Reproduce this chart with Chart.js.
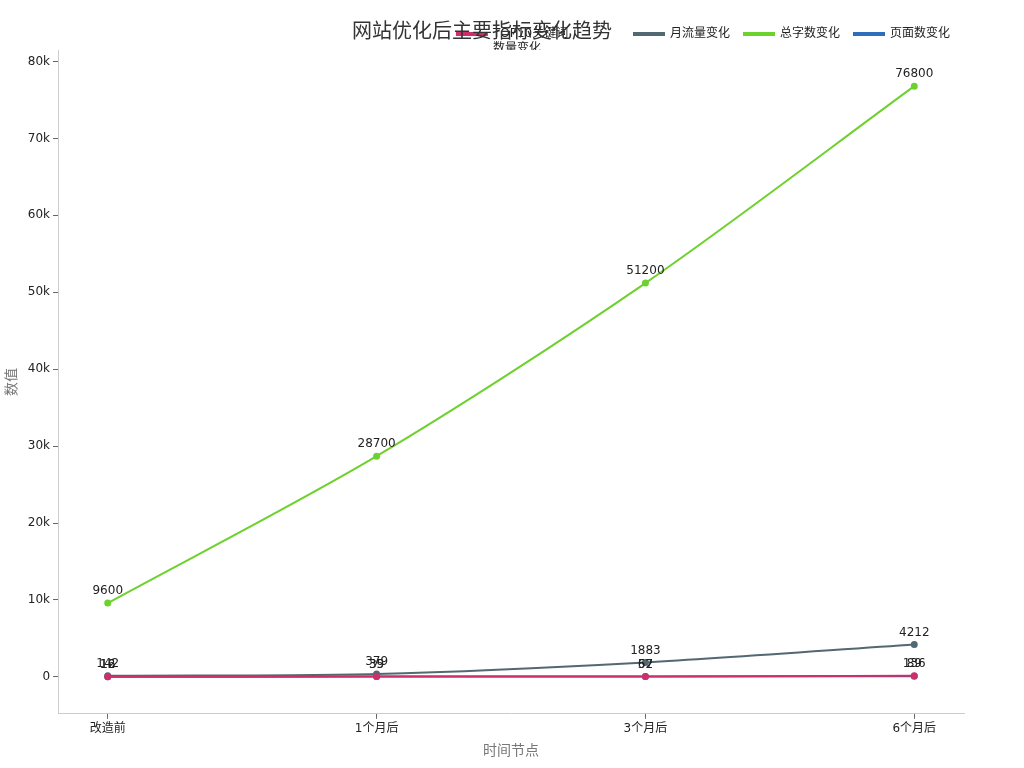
<!DOCTYPE html>
<html><head><meta charset="utf-8">
<script src="https://cdn.jsdelivr.net/npm/chart.js@4/dist/chart.umd.min.js"></script>
<style>body{margin:0;background:#fff}#wrap{width:1024px;height:768px}</style>
</head><body><div id="wrap"><canvas id="c"></canvas></div>
<script>
const categories = ["改造前", "1个月后", "3个月后", "6个月后"];
const pages = [16, 39, 62, 89];
const words = [9600, 28700, 51200, 76800];
const traffic = [142, 379, 1883, 4212];
const keywords = [12, 35, 57, 136];
const yTicks = [0, 10000, 20000, 30000, 40000, 50000, 60000, 70000, 80000];

const font = "'DejaVu Sans', 'Noto Sans CJK SC', sans-serif";
Chart.defaults.font.family = font;

const pointLabels = {
  id: "pointLabels",
  afterDatasetsDraw(chart) {
    const ctx = chart.ctx;
    ctx.save();
    ctx.font = "12px " + font;
    ctx.fillStyle = "#222";
    ctx.textAlign = "center";
    ctx.textBaseline = "bottom";
    chart.data.datasets.forEach((ds, i) => {
      chart.getDatasetMeta(i).data.forEach((pt, j) => {
        ctx.fillText(String(ds.data[j].y), pt.x, pt.y - 6);
      });
    });
    ctx.restore();
  }
};

function series(label, vals, color, order) {
  return {
    label, data: vals.map((v, i) => ({ x: i, y: v })), order,
    borderColor: color, backgroundColor: color,
    borderWidth: 2, pointRadius: 2.5, tension: 0.3
  };
}

new Chart(document.getElementById("c"), {
  type: "line",
  data: {
    datasets: [
      series("页面数变化", pages, "#2f6eba", 4),
      series("总字数变化", words, "#6dd12e", 3),
      series("月流量变化", traffic, "#536872", 2),
      series(["TOP10关键词", "数量变化"], keywords, "#cc2f6a", 1)
    ]
  },
  options: {
    responsive: true, maintainAspectRatio: false, animation: false,
    layout: { padding: { left: 0, right: 60, top: 14, bottom: 4 } },
    plugins: {
      title: { display: true, text: "网站优化后主要指标变化趋势", color: "#333",
        font: { size: 20, weight: "normal", family: "'Noto Sans CJK SC', sans-serif" }, padding: { top: 4, bottom: -28 } },
      legend: { position: "top", align: "end", reverse: false,
        labels: { boxWidth: 30, boxHeight: 2, padding: 14, color: "#222", font: { size: 12 } } },
      tooltip: { enabled: false }
    },
    scales: {
      x: {
        type: "linear", min: -0.185, max: 3.185,
        afterBuildTicks: s => { s.ticks = categories.map((_, i) => ({ value: i })); },
        ticks: { callback: v => categories[v], color: "#222", font: { size: 12 } },
        grid: { display: true, drawOnChartArea: false, tickLength: 5, color: "#666" },
        border: { color: "#ccc" },
        title: { display: true, text: "时间节点", color: "#777", font: { size: 14 } }
      },
      y: {
        min: -4800, max: 81500,
        afterBuildTicks: s => { s.ticks = yTicks.map(v => ({ value: v })); },
        ticks: { callback: v => v === 0 ? "0" : v / 1000 + "k", color: "#222", font: { size: 12 } },
        grid: { display: true, drawOnChartArea: false, tickLength: 5, color: "#666" },
        border: { color: "#ccc" },
        title: { display: true, text: "数值", color: "#777", font: { size: 14 } }
      }
    }
  },
  plugins: [pointLabels]
});
</script></body></html>
